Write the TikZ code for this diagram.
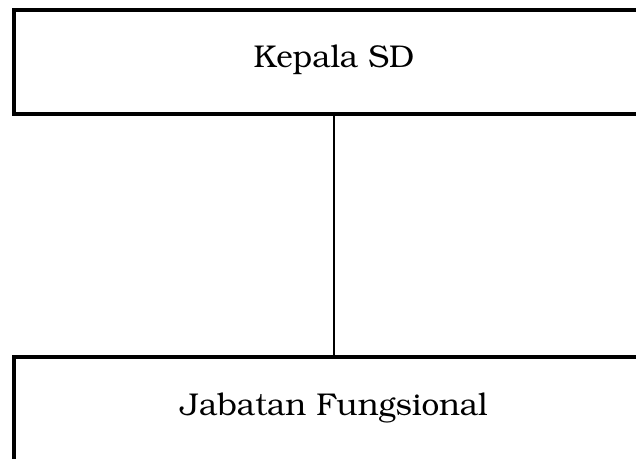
\documentclass[tikz,border=0pt]{standalone}
\usepackage[T1]{fontenc}
\usepackage{bookman}
\usetikzlibrary{positioning}

\begin{document}
\begin{tikzpicture}[x=1pt,y=1pt,
    unit/.style={draw,line width=4pt,rectangle,minimum width=640pt,
                 font=\fontsize{31.5}{36}\selectfont},
    link/.style={line width=1.5pt}]

   \clip (0,0) rectangle (636,-458);

   % Nodes
      \node[unit,minimum height=104pt,
            text height=21pt,text depth=11pt]     (kepala)  at (334,-62)   {Kepala SD};
      \node[unit,anchor=north,inner ysep=34pt,
            text height=24pt,text depth=60pt]     (jabatan) at (334,-355)  {Jabatan Fungsional};

   % Paths
      \draw[link] (kepala.south) -- (jabatan.north);
\end{tikzpicture}
\end{document}
